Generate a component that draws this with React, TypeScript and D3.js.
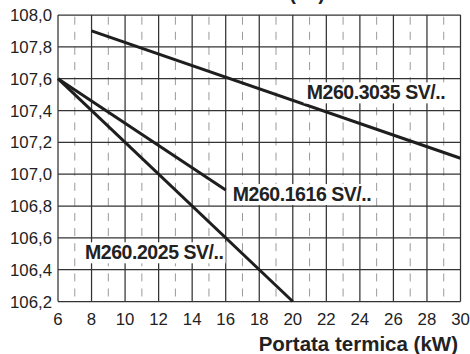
import React, { useEffect, useRef } from "react";
import * as d3 from "d3";

// Axis ticks
const xTicks = [6, 8, 10, 12, 14, 16, 18, 20, 22, 24, 26, 28, 30];
const xMinorTicks = [7, 9, 11, 13, 15, 17, 19, 21, 23, 25, 27, 29];
const yTicks = [106.2, 106.4, 106.6, 106.8, 107.0, 107.2, 107.4, 107.6, 107.8, 108.0];

// Curves: [kW, value]
const series3035: [number, number][] = [[8, 107.9], [30, 107.1]];
const series1616: [number, number][] = [[6, 107.6], [16, 106.9]];
const series2025: [number, number][] = [[6, 107.6], [20, 106.2]];
const seriesList = [series3035, series1616, series2025];

// Curve labels anchored in data units (left edge, baseline)
const labelNames = ["M260.3035 SV/..", "M260.1616 SV/..", "M260.2025 SV/.."];
const labelX = [20.83, 16.42, 7.61];
const labelY = [107.47, 106.831, 106.465];

const W = 470;
const H = 354;
const FONT = "'Liberation Sans', Arial, Helvetica, sans-serif";

export default function App() {
  const ref = useRef<SVGSVGElement | null>(null);

  useEffect(() => {
    const svg = d3.select(ref.current);
    svg.selectAll("*").remove();

    const x = d3.scaleLinear().domain([6, 30]).range([58, 460.5]);
    const y = d3.scaleLinear().domain([106.2, 108.0]).range([301.5, 15]);
    const [x0, x1] = x.range();
    const [y0, y1] = y.range();

    // Heading, running off the top edge
    svg
      .append("text")
      .attr("x", 325)
      .attr("y", -0.5)
      .attr("text-anchor", "end")
      .attr("font-family", FONT)
      .attr("font-weight", "bold")
      .attr("font-size", 20)
      .attr("fill", "#222")
      .text("T (°C)");

    const grid = svg.append("g");

    // Dashed minor verticals
    grid
      .selectAll("line.minor")
      .data(xMinorTicks)
      .join("line")
      .attr("class", "minor")
      .attr("x1", (d) => x(d))
      .attr("x2", (d) => x(d))
      .attr("y1", y1 + 1.7)
      .attr("y2", y0)
      .attr("stroke", "#9a9a9a")
      .attr("stroke-width", 1)
      .attr("stroke-dasharray", "8 7.1");

    // Solid verticals
    grid
      .selectAll("line.vmajor")
      .data(xTicks)
      .join("line")
      .attr("class", "vmajor")
      .attr("x1", (d) => x(d))
      .attr("x2", (d) => x(d))
      .attr("y1", y1)
      .attr("y2", y0)
      .attr("stroke", "#333")
      .attr("stroke-width", 1.25);

    // Solid horizontals
    grid
      .selectAll("line.hmajor")
      .data(yTicks)
      .join("line")
      .attr("class", "hmajor")
      .attr("x1", x0)
      .attr("x2", x1)
      .attr("y1", (d) => y(d))
      .attr("y2", (d) => y(d))
      .attr("stroke", "#333")
      .attr("stroke-width", 1.25);

    // Y tick labels
    svg
      .append("g")
      .selectAll("text")
      .data(yTicks)
      .join("text")
      .attr("x", x0 - 6)
      .attr("y", (d) => y(d))
      .attr("dy", "0.36em")
      .attr("text-anchor", "end")
      .attr("font-family", FONT)
      .attr("font-size", 16.8)
      .attr("fill", "#222")
      .text((d) => d3.format(".1f")(d).replace(".", ","));

    // X tick labels
    svg
      .append("g")
      .selectAll("text")
      .data(xTicks)
      .join("text")
      .attr("x", (d) => x(d))
      .attr("y", 325)
      .attr("text-anchor", "middle")
      .attr("font-family", FONT)
      .attr("font-size", 16.8)
      .attr("fill", "#222")
      .text((d) => String(d));

    // X axis title
    svg
      .append("text")
      .attr("x", 458)
      .attr("y", 351)
      .attr("text-anchor", "end")
      .attr("font-family", FONT)
      .attr("font-weight", "bold")
      .attr("font-size", 20.5)
      .attr("fill", "#222")
      .text("Portata termica (kW)");

    // Curves
    const line = d3
      .line<[number, number]>()
      .x((d) => x(d[0]))
      .y((d) => y(d[1]));
    svg
      .append("g")
      .selectAll("path")
      .data(seriesList)
      .join("path")
      .attr("d", (d) => line(d))
      .attr("fill", "none")
      .attr("stroke", "#1e1e1e")
      .attr("stroke-width", 3);

    // Curve labels on white boxes
    const lg = svg.append("g");
    labelNames.forEach((name, i) => {
      const g = lg.append("g");
      const t = g
        .append("text")
        .attr("x", x(labelX[i]))
        .attr("y", y(labelY[i]))
        .attr("font-family", FONT)
        .attr("font-weight", "bold")
        .attr("font-size", 19.5)
        .attr("letter-spacing", -0.45)
        .attr("fill", "#222")
        .text(name);
      const node = t.node() as SVGTextElement;
      const bb = node.getBBox();
      g.insert("rect", "text")
        .attr("x", bb.x - 3)
        .attr("y", bb.y + 1)
        .attr("width", bb.width + 5)
        .attr("height", bb.height - 1)
        .attr("fill", "#fff");
    });
  }, []);

  return (
    <svg
      ref={ref}
      width={W}
      height={H}
      viewBox={`0 0 ${W} ${H}`}
      style={{ position: "absolute", left: 0, top: 0, background: "#fff" }}
    />
  );
}
